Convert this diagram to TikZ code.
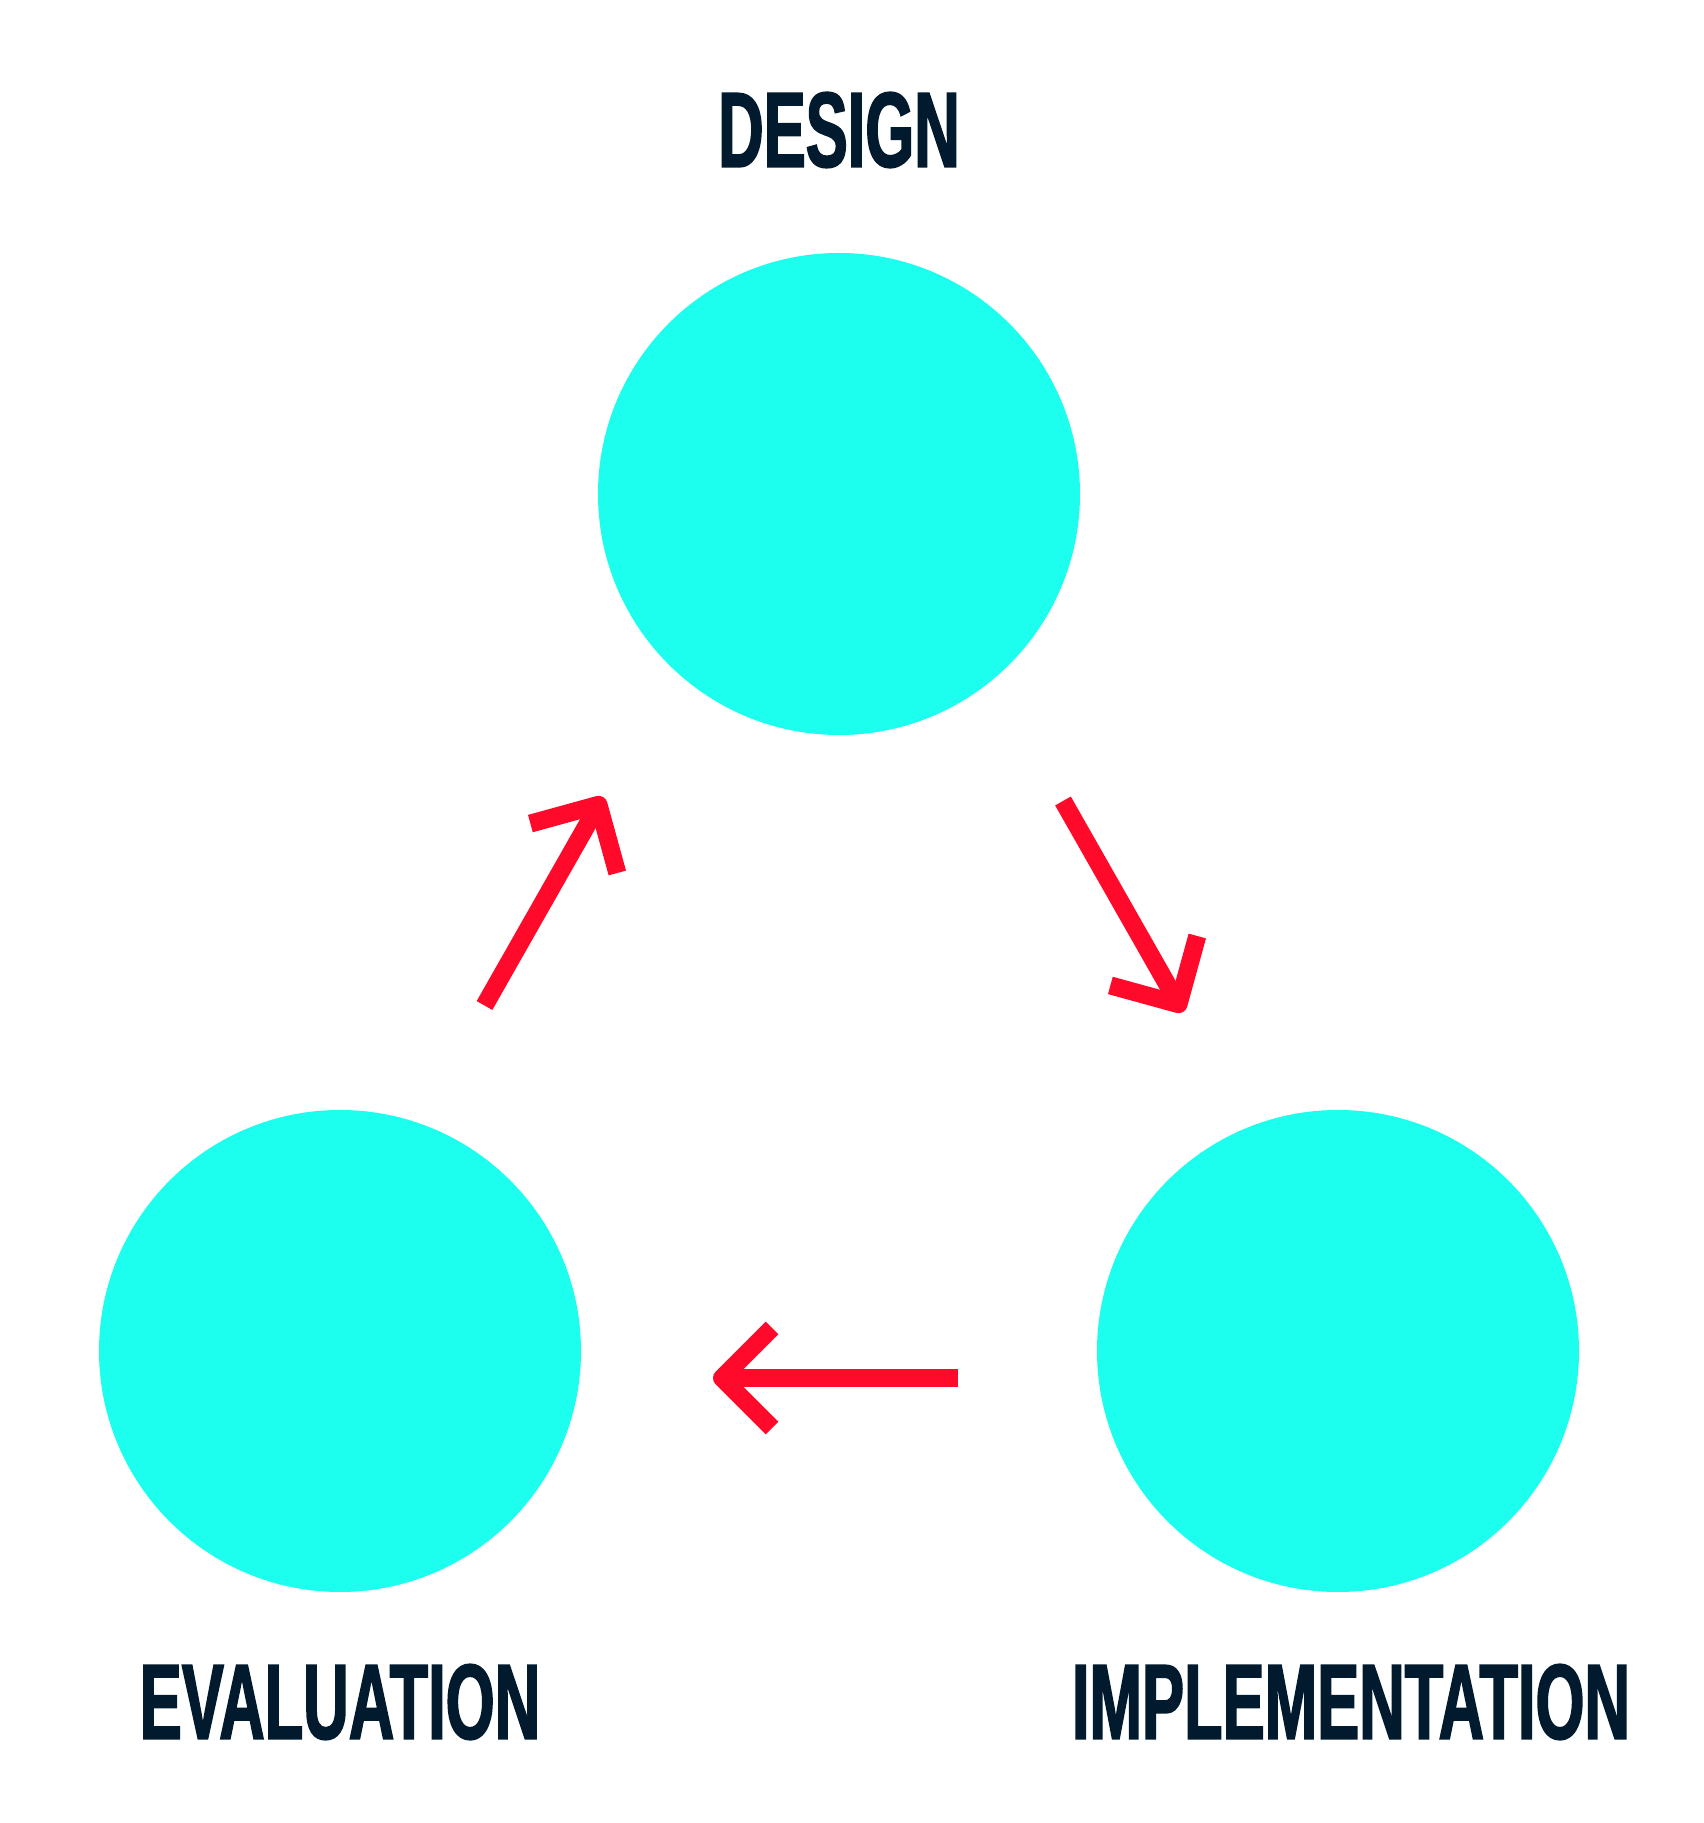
\documentclass[tikz,border=0pt]{standalone}
\usepackage{fontspec}
\usepackage{tikz}
\usetikzlibrary{arrows.meta}
\newfontfamily\labelfont{Liberation Sans}[FakeStretch=0.59,FakeBold=1.5]
\definecolor{phasecyan}{HTML}{1DFFEE}
\definecolor{flowred}{HTML}{FF0A2A}
\definecolor{labelnavy}{HTML}{011A2E}

\begin{document}
\begin{tikzpicture}[
  phase/.style={circle, fill=phasecyan, minimum size=4.82cm, inner sep=0pt},
  title/.style={text=labelnavy, inner sep=0pt, font=\labelfont\bfseries\fontsize{30.4}{30.4}\selectfont},
  flow/.style={draw=flowred, line width=0.18cm, line cap=butt,
    -{Straight Barb[length=0.5cm, width=1cm, line cap=butt, line join=round]}}
]
\useasboundingbox (0,0) rectangle (17.04,18.23);
% the three phases
\node[phase] (D) at (8.39,13.29){};
\node[phase] (I) at (13.38,4.72){};
\node[phase] (E) at (3.40,4.72){};
\node[title] (Dtxt) at (8.39,16.93){DESIGN};
\node[title] (Itxt) at (13.51,1.21){IMPLEMENTATION};
\node[title] (Etxt) at (3.40,1.21){EVALUATION};
% arrow ends
\coordinate (DIa) at (10.63,10.22);
\coordinate (DIb) at (11.83,8.11);
\coordinate (IEa) at (9.58,4.45);
\coordinate (IEb) at (7.13,4.45);
\coordinate (EDa) at (4.845,8.175);
\coordinate (EDb) at (6.03,10.26);
\foreach \from/\to in {DIa/DIb,IEa/IEb,EDa/EDb}
\draw[flow] (\from) -- (\to);
\end{tikzpicture}
\end{document}
